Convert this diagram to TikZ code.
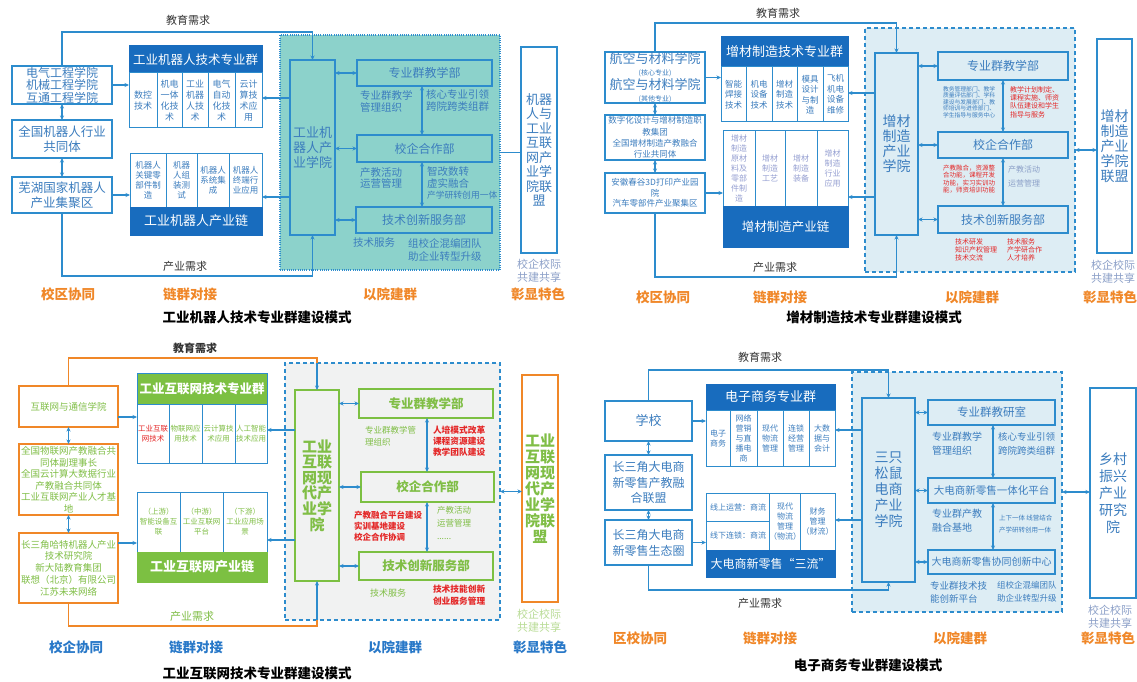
\documentclass[tikz,border=0pt]{standalone}
\usepackage{fontspec}
\setmainfont{Noto Sans CJK SC}
\usetikzlibrary{arrows.meta}
\definecolor{lblue}{RGB}{45,140,205}
\definecolor{hblue}{RGB}{24,108,190}
\definecolor{tblue}{RGB}{60,125,190}
\definecolor{teal1}{RGB}{140,210,203}
\definecolor{lbfill}{RGB}{221,237,244}
\definecolor{grfill}{RGB}{241,242,242}
\definecolor{orng}{RGB}{240,135,40}
\definecolor{grn}{RGB}{124,192,66}
\definecolor{gtxt}{RGB}{128,190,70}
\definecolor{rtxt}{RGB}{228,40,40}
\definecolor{pale}{RGB}{140,160,200}
\definecolor{ptxt}{RGB}{150,160,210}
\definecolor{lgtxt}{RGB}{185,220,150}
\definecolor{labblue}{RGB}{40,120,200}
\newcommand\fz[2]{\fontsize{#1}{#2}\selectfont}
\newcommand\bx[7]{\node[#2,minimum width={(#5-#3)*1pt},minimum height={(#6-#4)*1pt}] (#1) at ({(#3+#5)/2},{(#4+#6)/2}) {#7};}
\tikzset{
  base/.style={inner sep=0pt, outer sep=0pt, align=center},
  lb/.style={base, draw=lblue, line width=1.3pt, fill=white, text=tblue},
  hdr/.style={base, draw=hblue, fill=hblue, text=white, line width=1pt},
  col/.style={base, draw=lblue, line width=1pt, fill=white, text=tblue},
  dept/.style={base, draw=lblue, line width=1.3pt, text=tblue},
  reg/.style={base, line width=1.2pt},
  tx/.style={inner sep=0pt, outer sep=0pt, align=left, anchor=west},
  tc/.style={inner sep=0pt, outer sep=0pt, align=center},
  ln/.style={draw=lblue, line width=1.2pt},
  arr/.style={ln, -{Stealth[length=4.5pt,width=4pt]}},
  darr/.style={ln, {Stealth[length=4.5pt,width=4pt]}-{Stealth[length=4.5pt,width=4pt]}},
  oln/.style={draw=orng, line width=1.5pt},
  need/.style={tc, font=\fz{11}{13}, text=black!80},
  lab/.style={tc, font=\fz{13.5}{15}\bfseries, text=orng},
  ttl/.style={tc, font=\fz{13.5}{15}\bfseries, text=black},
}
\begin{document}
\begin{tikzpicture}[x=1pt,y=-1pt]
\useasboundingbox (0,0) rectangle (1137,682);
\fill[white] (0,0) rectangle (1137,682);

%================ Q1 =================
\bx{aR}{reg, fill=teal1, draw=lblue, dash pattern=on 1pt off 1.2pt}{280}{35}{500}{270}{}
\bx{aA}{lb,font=\fz{12}{12.5}}{12}{66}{112}{104}{电气工程学院\\机械工程学院\\互通工程学院}
\bx{aB}{lb,font=\fz{12.5}{15}}{12}{120}{112}{158}{全国机器人行业\\共同体}
\bx{aC}{lb,font=\fz{12.5}{15}}{12}{177}{112}{213}{芜湖国家机器人\\产业集聚区}
\bx{aGh}{hdr,font=\fz{12.5}{14}}{129}{46}{262}{73}{工业机器人技术专业群}
\bx{aG1}{col,font=\fz{9}{11}}{129}{73}{157}{128}{数控\\技术}
\bx{aG2}{col,font=\fz{9}{11}}{157}{73}{182}{128}{机电\\一体\\化技\\术}
\bx{aG3}{col,font=\fz{9}{11}}{182}{73}{208}{128}{工业\\机器\\人技\\术}
\bx{aG4}{col,font=\fz{9}{11}}{208}{73}{235}{128}{电气\\自动\\化技\\术}
\bx{aG5}{col,font=\fz{9}{11}}{235}{73}{262}{128}{云计\\算技\\术应\\用}
\bx{aC1}{col,font=\fz{8.5}{10}}{130}{153}{166}{207}{机器人\\关键零\\部件制\\造}
\bx{aC2}{col,font=\fz{8.5}{10}}{166}{153}{197}{207}{机器\\人组\\装测\\试}
\bx{aC3}{col,font=\fz{8.5}{10}}{197}{153}{229}{207}{机器人\\系统集\\成}
\bx{aC4}{col,font=\fz{8.5}{10}}{229}{153}{262}{207}{机器人\\终端行\\业应用}
\bx{aCb}{hdr,font=\fz{13}{14}}{130}{207}{262}{235}{工业机器人产业链}
\bx{aS}{dept,font=\fz{13}{15}}{290}{60}{335}{235}{工业机\\器人产\\业学院}
\bx{aD1}{dept,font=\fz{12}{14}}{357}{60}{492}{86}{专业群教学部}
\bx{aD2}{dept,font=\fz{12}{14}}{357}{135}{492}{162}{校企合作部}
\bx{aD3}{dept,font=\fz{12}{14}}{356}{207}{492}{233}{技术创新服务部}
\bx{aU}{lb,font=\fz{13}{14.5}}{521}{47}{557}{253}{机器\\人与\\工业\\互联\\网产\\业学\\院联\\盟}
\node[tx,font=\fz{10.5}{12},text=tblue] (aT1) at (360,101) {专业群教学\\管理组织};
\node[tx,font=\fz{10.5}{12},text=tblue] (aT2) at (426,101) {核心专业引领\\跨院跨类组群};
\node[tx,font=\fz{10.5}{11.5},text=tblue] (aT3) at (360,178) {产教活动\\运营管理};
\node[tx,font=\fz{10.5}{11.5},text=tblue] (aT4) at (427,183) {智改数转\\虚实融合\\{\fz{8.8}{11.5}产学研转创用一体}};
\node[tx,font=\fz{10.5}{13},text=tblue] (aT5) at (353,243) {技术服务};
\node[tx,font=\fz{10.5}{13},text=tblue] (aT6) at (408,250) {组校企混编团队\\助企业转型升级};
\node[tc,font=\fz{11}{12.5},text=pale] (aT7) at (539,271) {校企校际\\共建共享};
\node[need] (aN1) at (188,20) {教育需求};
\node[need] (aN2) at (185,266) {产业需求};
\node[lab] (aL1) at (68,294) {校区协同};
\node[lab] (aL2) at (190,294) {链群对接};
\node[lab] (aL3) at (390,294) {以院建群};
\node[lab] (aL4) at (538,294) {彰显特色};
\node[ttl] (aTT) at (257,317) {工业机器人技术专业群建设模式};
\coordinate (aTop) at (312.5,32);
\coordinate (aBot) at (312.5,276);
\coordinate (aV) at (422,0);
\coordinate (aj1) at (262,98);
\coordinate (aj2) at (262,197);
\draw[arr] (aA.north) |- (aTop) -- (aS.north);
\draw[arr] (aC.south) |- (aBot) -- (aS.south);
\draw[arr] (aA.east) -- (aA.east -| aG1.west);
\draw[arr] (aC.east) -- (aC.east -| aC1.west);
\draw[darr] (aA.south) -- (aB.north);
\draw[darr] (aB.south) -- (aC.north);
\draw[arr] (aS.west |- aj1) -- (aj1);
\draw[arr] (aS.west |- aj2) -- (aj2);
\draw[darr] (aS.east |- aD1.west) -- (aD1.west);
\draw[darr] (aS.east |- aD2.west) -- (aD2.west);
\draw[darr] (aS.east |- aD3.west) -- (aD3.west);
\draw[darr] (aD1.south -| aV) -- (aD2.north -| aV);
\draw[darr] (aD2.south -| aV) -- (aD3.north -| aV);
\draw[ln] (aR.east) -- (aR.east -| aU.west);

%================ Q2 =================
\bx{bR}{reg, fill=lbfill, draw=lblue, dash pattern=on 4pt off 3pt}{865}{28}{1075}{272}{}
\bx{bA}{lb}{605}{52}{705}{103}{\fz{13}{13.5}航空与材料学院\\\fz{7}{9}(核心专业)\\\fz{13}{13.5}航空与材料学院\\\fz{7}{9}(其他专业)}
\bx{bB}{lb,font=\fz{8.5}{11.3}}{605}{115}{705}{160}{数字化设计与增材制造职\\教集团\\全国增材制造产教融合\\行业共同体}
\bx{bC}{lb,font=\fz{8.5}{10.5}}{605}{173}{705}{213}{安徽春谷3D打印产业园\\院\\汽车零部件产业聚集区}
\bx{bGh}{hdr,font=\fz{13}{14}}{721}{37}{848}{67}{增材制造技术专业群}
\bx{bG1}{col,font=\fz{8.5}{10.5}}{721}{67}{746}{122}{智能\\焊接\\技术}
\bx{bG2}{col,font=\fz{8.5}{10.5}}{746}{67}{772}{122}{机电\\设备\\技术}
\bx{bG3}{col,font=\fz{8.5}{10.5}}{772}{67}{797}{122}{增材\\制造\\技术}
\bx{bG4}{col,font=\fz{8.5}{10.5}}{797}{67}{823}{122}{模具\\设计\\与制\\造}
\bx{bG5}{col,font=\fz{8.5}{10.5}}{823}{67}{848}{122}{飞机\\机电\\设备\\维修}
\bx{bC1}{col,text=ptxt,font=\fz{8}{10}}{723}{131}{755}{206}{增材\\制造\\原材\\料及\\零部\\件制\\造}
\bx{bC2}{col,text=ptxt,font=\fz{8}{10}}{755}{131}{785}{206}{增材\\制造\\工艺}
\bx{bC3}{col,text=ptxt,font=\fz{8}{10}}{785}{131}{817}{206}{增材\\制造\\装备}
\bx{bC4}{col,text=ptxt,font=\fz{8}{10}}{817}{131}{848}{206}{增材\\制造\\行业\\应用}
\bx{bCb}{hdr,font=\fz{12.5}{14}}{723}{206}{848}{247}{增材制造产业链}
\bx{bS}{dept,font=\fz{14}{15}}{875}{53}{918}{235}{增材\\制造\\产业\\学院}
\bx{bD1}{dept,font=\fz{12}{14}}{938}{52}{1068}{80}{专业群教学部}
\bx{bD2}{dept,font=\fz{12}{14}}{938}{132}{1068}{158}{校企合作部}
\bx{bD3}{dept,font=\fz{12}{14}}{938}{206}{1068}{233}{技术创新服务部}
\bx{bU}{lb,font=\fz{14}{15}}{1097}{39}{1132}{253}{增材\\制造\\产业\\学院\\联盟}
\node[tx,font=\fz{5.8}{6.5},text=tblue] (bT1) at (943,102) {教务管理部门、教学\\质量评估部门、学科\\建设与发展部门、教\\师培训与进修部门、\\学生指导与服务中心};
\node[tx,font=\fz{7}{8.3},text=rtxt] (bT2) at (1010,102) {教学计划制定、\\课程实施、师资\\队伍建设和学生\\指导与服务};
\node[tx,font=\fz{6.5}{7.4},text=rtxt] (bT3) at (943,179) {产教融合，资源整\\合功能，课程开发\\功能，实习实训功\\能，师资培训功能};
\node[tx,font=\fz{8}{14},text=pale] (bT4) at (1008,176) {产教活动\\运营管理};
\node[tx,font=\fz{7}{8},text=rtxt] (bT5) at (955,250) {技术研发\\知识产权管理\\技术交流};
\node[tx,font=\fz{7}{8},text=rtxt] (bT6) at (1007,250) {技术服务\\产学研合作\\人才培养};
\node[tc,font=\fz{11}{12.5},text=pale] (bT7) at (1113,272) {校企校际\\共建共享};
\node[need] (bN1) at (778,13) {教育需求};
\node[need] (bN2) at (775,267) {产业需求};
\node[lab] (bL1) at (663,297) {校区协同};
\node[lab] (bL2) at (780,297) {链群对接};
\node[lab] (bL3) at (972,297) {以院建群};
\node[lab] (bL4) at (1110,297) {彰显特色};
\node[ttl] (bTT) at (874,317) {增材制造技术专业群建设模式};
\coordinate (bTop) at (896.5,23);
\coordinate (bBot) at (896.5,277);
\coordinate (bV) at (1003,0);
\coordinate (bj1) at (848,93);
\coordinate (bj2) at (848,197);
\draw[arr] (bA.north) |- (bTop) -- (bS.north);
\draw[arr] (bC.south) |- (bBot) -- (bS.south);
\draw[arr] (bA.east) -- (bA.east -| bG1.west);
\draw[arr] (bC.east) -- (bC.east -| bC1.west);
\draw[darr] (bA.south) -- (bB.north);
\draw[darr] (bB.south) -- (bC.north);
\draw[arr] (bS.west |- bj1) -- (bj1);
\draw[arr] (bS.west |- bj2) -- (bj2);
\draw[darr] (bS.east |- bD1.west) -- (bD1.west);
\draw[darr] (bS.east |- bD2.west) -- (bD2.west);
\draw[darr] (bS.east |- bD3.west) -- (bD3.west);
\draw[darr] (bD1.south -| bV) -- (bD2.north -| bV);
\draw[darr] (bD2.south -| bV) -- (bD3.north -| bV);
\draw[darr] (bR.east) -- (bR.east -| bU.west);

%================ Q3 =================
\bx{cR}{reg, fill=grfill, draw=lblue, dash pattern=on 4pt off 3pt}{285}{363}{500}{620}{}
\bx{cA}{lb,draw=orng,line width=1.5pt,text=gtxt,font=\fz{9.5}{11.5}}{19}{386}{118}{427}{互联网与通信学院}
\bx{cB}{lb,draw=orng,line width=1.5pt,text=gtxt,font=\fz{9.5}{11.5}}{19}{444}{118}{515}{全国物联网产教融合共\\同体副理事长\\全国云计算大数据行业\\产教融合共同体\\工业互联网产业人才基\\地}
\bx{cC}{lb,draw=orng,line width=1.5pt,text=gtxt,font=\fz{9.5}{11.8}}{19}{533}{118}{603}{长三角哈特机器人产业\\技术研究院\\新大陆教育集团\\联想（北京）有限公司\\江苏未来网络}
\bx{cGh}{hdr,fill=grn,draw=lblue,font=\fz{12.5}{14}\bfseries}{137}{373}{267}{404}{工业互联网技术专业群}
\bx{cG1}{col,text=rtxt,font=\fz{7.5}{9.5}}{137}{404}{169}{463}{工业互联\\网技术}
\bx{cG2}{col,text=gtxt,font=\fz{7.5}{9.5}}{169}{404}{202}{463}{物联网应\\用技术}
\bx{cG3}{col,text=gtxt,font=\fz{7.5}{9.5}}{202}{404}{235}{463}{云计算技\\术应用}
\bx{cG4}{col,text=gtxt,font=\fz{7.5}{9.5}}{235}{404}{267}{463}{人工智能\\技术应用}
\bx{cC1}{col,text=gtxt,font=\fz{7.5}{10}}{137}{492}{180}{552}{（上游）\\智能设备互\\联}
\bx{cC2}{col,text=gtxt,font=\fz{7.5}{10}}{180}{492}{223}{552}{（中游）\\工业互联网\\平台}
\bx{cC3}{col,text=gtxt,font=\fz{7.5}{10}}{223}{492}{267}{552}{（下游）\\工业应用场\\景}
\bx{cCb}{hdr,fill=grn,draw=grn,font=\fz{13}{14}\bfseries}{137}{552}{267}{582}{工业互联网产业链}
\bx{cS}{dept,draw=grn,text=gtxt,font=\fz{15}{15.6}\bfseries}{295}{390}{339}{581}{工业\\互联\\网现\\代产\\业学\\院}
\bx{cD1}{dept,draw=grn,text=gtxt,font=\fz{12.5}{14}\bfseries}{359}{389}{493}{418}{专业群教学部}
\bx{cD2}{dept,draw=grn,text=gtxt,font=\fz{12.5}{14}\bfseries}{361}{472}{494}{502}{校企合作部}
\bx{cD3}{dept,draw=grn,text=gtxt,font=\fz{12.5}{14}\bfseries}{359}{552}{493}{580}{技术创新服务部}
\bx{cU}{lb,draw=orng,line width=1.5pt,text=gtxt,font=\fz{15}{16}\bfseries}{522}{375}{558}{602}{工业\\互联\\网现\\代产\\业学\\院联\\盟}
\node[tx,font=\fz{8.5}{12},text=gtxt] (cT1) at (365,436) {专业群教学管\\理组织};
\node[tx,font=\fz{8.7}{11}\bfseries,text=rtxt] (cT2) at (433,441) {人培模式改革\\课程资源建设\\教学团队建设};
\node[tx,font=\fz{8.5}{11}\bfseries,text=rtxt] (cT3) at (354,526) {产教融合平台建设\\实训基地建设\\校企合作协调};
\node[tx,font=\fz{8.5}{13},text=gtxt] (cT4) at (437,523) {产教活动\\运营管理\\......};
\node[tx,font=\fz{9}{11},text=gtxt] (cT5) at (370,593) {技术服务};
\node[tx,font=\fz{8.7}{11.5}\bfseries,text=rtxt] (cT6) at (433,595) {技术技能创新\\创业服务管理};
\node[tc,font=\fz{11}{13},text=lgtxt] (cT7) at (539,621) {校企校际\\共建共享};
\node[need,font=\fz{11}{13}\bfseries] (cN1) at (195,348) {教育需求};
\node[need,text=gtxt] (cN2) at (192,616) {产业需求};
\node[lab,text=labblue] (cL1) at (76,647) {校企协同};
\node[lab,text=labblue] (cL2) at (196,647) {链群对接};
\node[lab,text=labblue] (cL3) at (395,647) {以院建群};
\node[lab,text=labblue] (cL4) at (540,647) {彰显特色};
\node[ttl] (cTT) at (257,673) {工业互联网技术专业群建设模式};
\coordinate (cTop) at (317,358);
\coordinate (cBot) at (317,626);
\coordinate (cV) at (427,0);
\coordinate (cj1) at (137,417);
\coordinate (cj2) at (137,543);
\coordinate (cj3) at (267,430);
\coordinate (cj4) at (267,540);
\draw[oln] (cA.north) |- (cTop) -- (cTop |- cR.north);
\draw[arr] (cTop |- cR.north) -- (cS.north);
\draw[oln] (cC.south) |- (cBot) -- (cBot |- cR.south);
\draw[arr] (cBot |- cR.south) -- (cS.south);
\draw[arr] (cA.east |- cj1) -- (cj1);
\draw[arr] (cC.east |- cj2) -- (cj2);
\draw[darr] (cA.south) -- (cB.north);
\draw[darr] (cB.south) -- (cC.north);
\draw[arr] (cS.west |- cj3) -- (cj3);
\draw[arr] (cS.west |- cj4) -- (cj4);
\draw[darr] (cS.east |- cD1.west) -- (cD1.west);
\draw[darr] (cS.east |- cD2.west) -- (cD2.west);
\draw[darr] (cS.east |- cD3.west) -- (cD3.west);
\draw[darr] (cD1.south -| cV) -- (cD2.north -| cV);
\draw[darr] (cD2.south -| cV) -- (cD3.north -| cV);
\draw[darr] (cR.east) -- (cR.east -| cU.west);

%================ Q4 =================
\bx{dR}{reg, fill=lbfill, draw=lblue, dash pattern=on 4pt off 3pt}{852}{372}{1062}{612}{}
\bx{dA}{lb,font=\fz{13}{15}}{605}{401}{692}{441}{学校}
\bx{dB}{lb,font=\fz{12}{15.5}}{605}{455}{692}{510}{长三角大电商\\新零售产教融\\合联盟}
\bx{dC}{lb,font=\fz{12}{16}}{605}{520}{692}{565}{长三角大电商\\新零售生态圈}
\bx{dGh}{hdr,font=\fz{13}{14}}{706}{384}{835}{410}{电子商务专业群}
\bx{dG1}{col,font=\fz{8}{10}}{706}{410}{730}{466}{电子\\商务}
\bx{dG2}{col,font=\fz{8}{10}}{730}{410}{757}{466}{网络\\营销\\与直\\播电\\商}
\bx{dG3}{col,font=\fz{8}{10}}{757}{410}{783}{466}{现代\\物流\\管理}
\bx{dG4}{col,font=\fz{8}{10}}{783}{410}{809}{466}{连锁\\经营\\管理}
\bx{dG5}{col,font=\fz{8}{10}}{809}{410}{835}{466}{大数\\据与\\会计}
\bx{dC1}{col,font=\fz{8}{10}}{706}{493}{770}{521}{线上运营：商流}
\bx{dC1b}{col,font=\fz{8}{10}}{706}{521}{770}{550}{线下连锁：商流}
\bx{dC2}{col,font=\fz{8}{10}}{770}{493}{800}{550}{现代\\物流\\管理\\（物流）}
\bx{dC3}{col,font=\fz{8}{10}}{800}{493}{835}{550}{财务\\管理\\（财流）}
\bx{dCb}{hdr,font=\fz{12}{14}}{706}{550}{835}{577}{大电商新零售“三流”}
\bx{dS}{dept,font=\fz{14}{16}}{862}{398}{915}{582}{三只\\松鼠\\电商\\产业\\学院}
\bx{dD1}{dept,font=\fz{11.5}{14}}{928}{400}{1055}{425}{专业群教研室}
\bx{dD2}{dept,font=\fz{10.5}{14}}{928}{478}{1055}{503}{大电商新零售一体化平台}
\bx{dD3}{dept,font=\fz{10}{14}}{928}{550}{1055}{574}{大电商新零售协同创新中心}
\bx{dU}{lb,font=\fz{14}{17}}{1090}{388}{1136}{598}{乡村\\振兴\\产业\\研究\\院}
\node[tx,font=\fz{10}{14},text=tblue] (dT1) at (932,444) {专业群教学\\管理组织};
\node[tx,font=\fz{9.5}{14},text=tblue] (dT2) at (998,444) {核心专业引领\\跨院跨类组群};
\node[tx,font=\fz{10}{14},text=tblue] (dT3) at (932,521) {专业群产教\\融合基地};
\node[tx,font=\fz{6.5}{12},text=tblue] (dT4) at (999,524) {上下一体 线营结合\\产学研转创用一体};
\node[tx,font=\fz{9.5}{13},text=tblue] (dT5) at (930,592) {专业群技术技\\能创新平台};
\node[tx,font=\fz{8.5}{13},text=tblue] (dT6) at (997,592) {组校企混编团队\\助企业转型升级};
\node[tc,font=\fz{11}{13},text=pale] (dT7) at (1110,617) {校企校际\\共建共享};
\node[need] (dN1) at (760,357) {教育需求};
\node[need] (dN2) at (760,603) {产业需求};
\node[lab] (dL1) at (640,638) {区校协同};
\node[lab] (dL2) at (770,638) {链群对接};
\node[lab] (dL3) at (960,638) {以院建群};
\node[lab] (dL4) at (1108,638) {彰显特色};
\node[ttl] (dTT) at (868,665) {电子商务专业群建设模式};
\coordinate (dTop) at (888.5,370);
\coordinate (dBot) at (888.5,590);
\coordinate (dV) at (993,0);
\coordinate (dj1) at (835,430);
\coordinate (dj2) at (835,520);
\draw[arr] (dA.north) |- (dTop) -- (dS.north);
\draw[arr] (dC.south) |- (dBot) -- (dS.south);
\draw[arr] (dA.east) -- (dA.east -| dG1.west);
\draw[arr] (dC.east) -- (dC.east -| dC1b.west);
\draw[darr] (dA.south) -- (dB.north);
\draw[darr] (dB.south) -- (dC.north);
\draw[arr] (dS.west |- dj1) -- (dj1);
\draw[arr] (dS.west |- dj2) -- (dj2);
\draw[darr] (dS.east |- dD1.west) -- (dD1.west);
\draw[darr] (dS.east |- dD2.west) -- (dD2.west);
\draw[darr] (dS.east |- dD3.west) -- (dD3.west);
\draw[darr] (dD1.south -| dV) -- (dD2.north -| dV);
\draw[darr] (dD2.south -| dV) -- (dD3.north -| dV);
\draw[darr] (dR.east) -- (dR.east -| dU.west);
\end{tikzpicture}
\end{document}
